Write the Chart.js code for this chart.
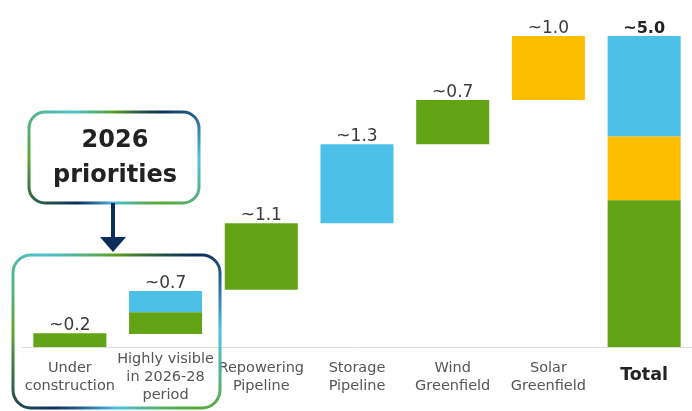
<!DOCTYPE html>
<html lang="en">
<head>
    <meta charset="UTF-8">
    <title>2026 priorities</title>
    <style>
        html, body { margin: 0; padding: 0; background: #fff; }
        #wrap { width: 692px; height: 411px; }
    </style>
</head>
<body>
    <div id="wrap">
        <canvas id="myChart"></canvas>
    </div>
    <script src="https://cdn.jsdelivr.net/npm/chart.js"></script>
    <script>
        // categories and values (GW, floating ranges [from, to])
        const categories = [
            ["Under", "construction"],
            ["Highly visible", "in 2026-28", "period"],
            ["Repowering", "Pipeline"],
            ["Storage", "Pipeline"],
            ["Wind", "Greenfield"],
            ["Solar", "Greenfield"],
            "Total"
        ];
        const greenRanges = [[0, 0.22], [0.21, 0.56], [0.92, 1.99], null, [3.26, 3.97], null, [0, 2.36]];
        const blueRanges = [null, [0.56, 0.90], null, [1.99, 3.26], null, null, [3.39, 5.0]];
        const yellowRanges = [null, null, null, null, null, [3.97, 5.0], [2.36, 3.39]];
        const valueLabels = ["~0.2", "~0.7", "~1.1", "~1.3", "~0.7", "~1.0", "~5.0"];

        const FONT = "'DejaVu Sans', sans-serif";
        const GREEN = "#62a415";
        const BLUE = "#4cc0e6";
        const YELLOW = "#fdbe00";
        const NAVY = "#0b2d5b";

        // value labels above each column
        const topLabels = {
            id: "topLabels",
            afterDatasetsDraw(chart) {
                const c = chart.ctx;
                const y = chart.scales.y;
                const x = chart.scales.x;
                c.save();
                c.textAlign = "center";
                c.textBaseline = "alphabetic";
                for (let i = 0; i < valueLabels.length; i++) {
                    let top = 0;
                    [greenRanges, blueRanges, yellowRanges].forEach(r => {
                        if (r[i]) top = Math.max(top, r[i][1]);
                    });
                    const last = i === valueLabels.length - 1;
                    c.font = (last ? "bold 16px " : "17px ") + FONT;
                    c.fillStyle = last ? "#222" : "#3a3a3a";
                    c.fillText(valueLabels[i], x.getPixelForValue(i), y.getPixelForValue(top) - 3);
                }
                c.restore();
            }
        };

        function roundBox(c, x, y, w, h, r) {
            c.beginPath();
            c.moveTo(x + r, y);
            c.arcTo(x + w, y, x + w, y + h, r);
            c.arcTo(x + w, y + h, x, y + h, r);
            c.arcTo(x, y + h, x, y, r);
            c.arcTo(x, y, x + w, y, r);
            c.closePath();
        }

        function borderGradient(c, x, y, w, h) {
            const g = c.createConicGradient(0, x + w / 2, y + h / 2);
            g.addColorStop(0, "#4fc0e8");
            g.addColorStop(0.12, "#5aa832");
            g.addColorStop(0.25, "#4fc0e0");
            g.addColorStop(0.36, NAVY);
            g.addColorStop(0.5, "#5aa832");
            g.addColorStop(0.63, "#4fc0d0");
            g.addColorStop(0.75, "#5aa020");
            g.addColorStop(0.88, NAVY);
            g.addColorStop(1, "#4fc0e8");
            return g;
        }

        // "2026 priorities" call-out
        const callout = {
            id: "callout",
            afterDraw(chart) {
                const c = chart.ctx;
                c.save();
                c.lineWidth = 3;

                roundBox(c, 29, 112, 170, 91, 16);
                c.strokeStyle = borderGradient(c, 29, 112, 170, 91);
                c.stroke();

                roundBox(c, 13, 255, 207, 153, 18);
                c.strokeStyle = borderGradient(c, 13, 255, 207, 153);
                c.stroke();

                c.fillStyle = "#222";
                c.font = "bold 24px " + FONT;
                c.textAlign = "center";
                c.textBaseline = "middle";
                c.fillText("2026", 115, 141);
                c.fillText("priorities", 115, 176);

                // arrow
                c.fillStyle = NAVY;
                c.fillRect(111, 203, 4, 36);
                c.beginPath();
                c.moveTo(100, 237);
                c.lineTo(126, 237);
                c.lineTo(113, 252);
                c.closePath();
                c.fill();
                c.restore();
            }
        };

        const ctx = document.getElementById("myChart");

        new Chart(ctx, {
            type: "bar",
            data: {
                labels: categories,
                datasets: [
                    { label: "Green", data: greenRanges, backgroundColor: GREEN },
                    { label: "Blue", data: blueRanges, backgroundColor: BLUE },
                    { label: "Yellow", data: yellowRanges, backgroundColor: YELLOW }
                ]
            },
            options: {
                responsive: true,
                maintainAspectRatio: false,
                animation: false,
                layout: { padding: { top: 36, left: 22, right: 0, bottom: 0 } },
                datasets: {
                    bar: { categoryPercentage: 1, barPercentage: 0.763, borderWidth: 0 }
                },
                plugins: {
                    legend: { display: false },
                    tooltip: { enabled: false }
                },
                scales: {
                    x: {
                        stacked: true,
                        grid: { display: false, drawTicks: false },
                        border: { display: true, color: "#dcdcdc", width: 1 },
                        ticks: {
                            padding: 12,
                            crossAlign: "center",
                            maxRotation: 0,
                            autoSkip: false,
                            color: ctx => ctx.index === 6 ? "#222" : "#555",
                            font: ctx => ctx.index === 6
                                ? { family: FONT, size: 17.5, weight: "bold", lineHeight: 1.2 }
                                : { family: FONT, size: 14.5, lineHeight: 1.25 }
                        },
                        afterFit: s => { s.height = 64; }
                    },
                    y: {
                        stacked: false,
                        display: false,
                        min: 0,
                        max: 5
                    }
                }
            },
            plugins: [topLabels, callout]
        });
    </script>
</body>
</html>
